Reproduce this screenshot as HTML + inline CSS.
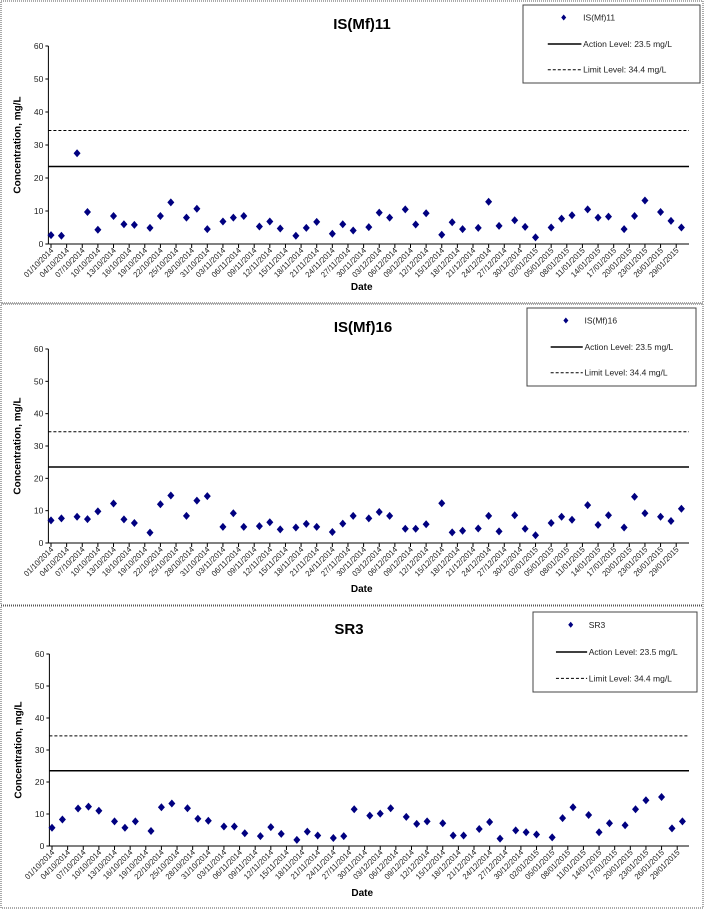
<!DOCTYPE html>
<html><head><meta charset="utf-8"><style>
body{margin:0;background:#fff;}
svg{display:block;font-family:"Liberation Sans",Arial,sans-serif;}
</style></head><body>
<svg id="chart" width="704" height="910" viewBox="0 0 704 910"></svg>
<script>
const sampleDays=[0,2,5,7,9,12,14,16,19,21,23,26,28,30,33,35,37,40,42,44,47,49,51,54,56,58,61,63,65,68,70,72,75,77,79,82,84,86,89,91,93,96,98,100,103,105,107,110,112,114,117,119,121];
const valuesMf11=[2.7,2.5,27.5,9.7,4.3,8.5,6,5.8,4.9,8.5,12.6,8,10.7,4.5,6.8,8,8.5,5.3,6.8,4.7,2.5,4.9,6.7,3.1,6,4.1,5.1,9.5,8,10.5,5.9,9.3,2.8,6.6,4.5,4.9,12.8,5.5,7.2,5.2,2,5,7.7,8.7,10.5,8,8.3,4.5,8.5,13.2,9.7,7,5];
const valuesMf16=[7,7.6,8.1,7.4,9.8,12.2,7.3,6.2,3.2,12,14.7,8.4,13.1,14.5,5,9.2,5,5.2,6.4,4.2,4.8,5.9,5,3.4,6,8.4,7.6,9.6,8.4,4.4,4.4,5.8,12.3,3.3,3.8,4.5,8.4,3.6,8.6,4.4,2.4,6.2,8.1,7.2,11.7,5.6,8.6,4.8,14.3,9.2,8.1,6.8,10.6];
const valuesSR3=[5.7,8.3,11.7,12.3,11,7.7,5.7,7.7,4.7,12.1,13.3,11.8,8.5,7.9,6.1,6.1,4,3.1,5.9,3.8,1.9,4.5,3.3,2.5,3.1,11.5,9.5,10.1,11.8,9.1,6.9,7.7,7.1,3.3,3.3,5.3,7.5,2.3,4.9,4.3,3.6,2.7,8.7,12.1,9.7,4.3,7.1,6.5,11.5,14.3,15.3,5.5,7.7];
const yTicks=[0,10,20,30,40,50,60];
const actionLevel=23.5;
const limitLevel=34.4;
const tickLabels=["01/10/2014","04/10/2014","07/10/2014","10/10/2014","13/10/2014","16/10/2014","19/10/2014","22/10/2014","25/10/2014","28/10/2014","31/10/2014","03/11/2014","06/11/2014","09/11/2014","12/11/2014","15/11/2014","18/11/2014","21/11/2014","24/11/2014","27/11/2014","30/11/2014","03/12/2014","06/12/2014","09/12/2014","12/12/2014","15/12/2014","18/12/2014","21/12/2014","24/12/2014","27/12/2014","30/12/2014","02/01/2015","05/01/2015","08/01/2015","11/01/2015","14/01/2015","17/01/2015","20/01/2015","23/01/2015","26/01/2015","29/01/2015"];

const NS="http://www.w3.org/2000/svg";
const svg=document.getElementById('chart');
function mk(tag,attrs,parent){const e=document.createElementNS(NS,tag);for(const k in attrs)e.setAttribute(k,attrs[k]);(parent||svg).appendChild(e);return e;}

const panels=[
 {name:'mf11',title:'IS(Mf)11',vals:valuesMf11,top:1,bottom:303,y60:46,y0:244,x0:51,titleX:362,titleY:29,leg:[523,5,177,78],dateY:290},
 {name:'mf16',title:'IS(Mf)16',vals:valuesMf16,top:304,bottom:605,y60:349,y0:543,x0:51,titleX:363,titleY:332,leg:[527,308,169,78],dateY:592},
 {name:'sr3',title:'SR3',vals:valuesSR3,top:606,bottom:908,y60:654,y0:846,x0:52,titleX:349,titleY:634,leg:[533,612,164,80],dateY:896}
];
const pxDay=5.21;
panels.forEach(p=>{
 const g=mk('g',{});
 
 
 const fr=mk('rect',{x:1,y:p.top,width:702,height:p.bottom-p.top,fill:'none',stroke:'#555','stroke-width':1,'stroke-dasharray':'1,1'},g);
 
 
 const X=d=>p.x0+d*pxDay;
 const Y=v=>p.y0+(p.y60-p.y0)*v/60;
 const xl=X(-0.5), xr=689;
 const t=mk('text',{x:p.titleX,y:p.titleY,'text-anchor':'middle','font-size':15,'font-weight':'bold'},g);t.textContent=p.title;
 
 
 const ya=mk('line',{x1:xl,y1:p.y60,x2:xl,y2:p.y0,stroke:'#000','stroke-width':1},g);
 
 
 yTicks.forEach(v=>{
  mk('line',{x1:xl-3,y1:Y(v),x2:xl,y2:Y(v),stroke:'#000'},g);
  const tl=mk('text',{x:xl-5,y:Y(v)+3,'text-anchor':'end','font-size':8.5,fill:'#222'},g);tl.textContent=v;
  
  
 });
 const yt=mk('text',{x:0,y:0,'text-anchor':'middle','font-size':10,'font-weight':'bold',transform:`translate(${xl-28},${(p.y60+p.y0)/2}) rotate(-90)`},g);yt.textContent='Concentration, mg/L';
 
 
 const xa=mk('line',{x1:xl,y1:p.y0,x2:xr,y2:p.y0,stroke:'#000'},g);
 
 
 tickLabels.forEach((lab,i)=>{
  const x=X(i*3);
  mk('line',{x1:x,y1:p.y0,x2:x,y2:p.y0+4,stroke:'#000'},g);
  const tl=mk('text',{x:0,y:0,'text-anchor':'end','font-size':8,fill:'#222',textLength:38,lengthAdjust:'spacingAndGlyphs',transform:`translate(${x+3},${p.y0+7}) rotate(-45)`},g);tl.textContent=lab;
  
  
 });
 const dt=mk('text',{x:(xl+xr)/2-7,y:p.dateY,'text-anchor':'middle','font-size':10,'font-weight':'bold'},g);dt.textContent='Date';
 
 
 const al=mk('line',{x1:xl,y1:Y(actionLevel),x2:xr,y2:Y(actionLevel),stroke:'#000','stroke-width':1.5},g);
 
 
 const ll=mk('line',{x1:xl,y1:Y(limitLevel),x2:xr,y2:Y(limitLevel),stroke:'#000','stroke-width':1,'stroke-dasharray':'3,2'},g);
 
 
 p.vals.forEach((v,i)=>{
  const cx=X(sampleDays[i]),cy=Y(v);
  const d=mk('path',{d:`M${cx},${cy-4}L${cx+3.5},${cy}L${cx},${cy+4}L${cx-3.5},${cy}Z`,fill:'#000080'},g);
  
  
 });
 const [lx,ly,lw,lh]=p.leg;
 const lg=mk('g',{},g);
 
 
 mk('rect',{x:lx,y:ly,width:lw,height:lh,fill:'#fff',stroke:'#444','stroke-width':1},lg);
 const r1=ly+lh*0.16,r2=ly+lh*0.5,r3=ly+lh*0.83;
 const mx=lx+lw*0.23;
 mk('path',{d:`M${mx},${r1-3}L${mx+2.5},${r1}L${mx},${r1+3}L${mx-2.5},${r1}Z`,fill:'#000080'},lg);
 mk('line',{x1:lx+lw*0.14,y1:r2,x2:lx+lw*0.33,y2:r2,stroke:'#000','stroke-width':1.5},lg);
 mk('line',{x1:lx+lw*0.14,y1:r3,x2:lx+lw*0.33,y2:r3,stroke:'#000','stroke-dasharray':'3,2'},lg);
 [[p.title,r1],['Action Level: 23.5 mg/L',r2],['Limit Level: 34.4 mg/L',r3]].forEach(([s,yy])=>{
  const tx=mk('text',{x:lx+lw*0.34,y:yy+3,'font-size':8.5,fill:'#222'},lg);tx.textContent=s;
  
  
 });
});
</script>
</body></html>
